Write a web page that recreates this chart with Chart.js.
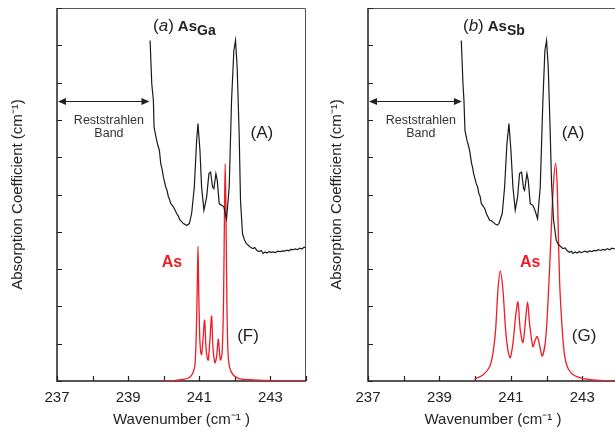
<!DOCTYPE html>
<html>
<head>
<meta charset="utf-8">
<script src="https://cdn.jsdelivr.net/npm/chart.js@4.4.0/dist/chart.umd.min.js"></script>
<style>
	html, body { margin: 0; padding: 0; background: #fff; overflow: hidden; width: 615px; height: 432px; }
	#graphA { position: absolute; left: 0; top: 0; }
	#graphB { position: absolute; left: 310px; top: 0; }
</style>
</head>
<body>
<canvas id="graphA" width="310" height="432"></canvas>
<canvas id="graphB" width="310" height="432"></canvas>
<script>
'use strict';

// axes
var xTicks = [237, 238, 239, 240, 241, 242, 243, 244];
var xTickLabels = ['237', '', '239', '', '241', '', '243', ''];
var yTicks = [0, 1, 2, 3, 4, 5, 6, 7, 8, 9, 10];

// (a) As_Ga : measured spectrum (A)
var gaMesX = [239.617, 239.664, 239.710, 239.729, 239.770, 239.804, 239.840, 239.879, 239.916, 239.950, 239.991, 240.056, 240.090, 240.131, 240.160, 240.196, 240.230, 240.271, 240.320, 240.364, 240.410, 240.458, 240.500, 240.551, 240.600, 240.645, 240.720, 240.785, 240.860, 240.925, 240.963, 241.019, 241.065, 241.131, 241.206, 241.271, 241.318, 241.374, 241.411, 241.467, 241.505, 241.561, 241.626, 241.692, 241.766, 241.841, 241.907, 241.972, 242.019, 242.065, 242.121, 242.159, 242.215, 242.270, 242.327, 242.400, 242.460, 242.514, 242.560, 242.620, 242.680, 242.740, 242.794, 242.850, 242.900, 242.960, 243.020, 243.075, 243.140, 243.200, 243.270, 243.355, 243.400, 243.460, 243.520, 243.580, 243.636, 243.700, 243.760, 243.820, 243.880, 243.940, 243.991];
var gaMesY = [9.13, 7.97, 7.52, 6.81, 6.60, 6.45, 6.30, 6.18, 5.83, 5.70, 5.47, 5.20, 5.12, 4.94, 4.88, 4.76, 4.72, 4.67, 4.58, 4.49, 4.42, 4.31, 4.28, 4.22, 4.20, 4.17, 4.22, 4.49, 5.20, 6.45, 6.90, 6.18, 5.20, 4.58, 4.93, 5.56, 5.60, 5.20, 5.16, 5.56, 5.38, 4.75, 4.71, 4.67, 4.35, 5.20, 7.52, 8.86, 9.13, 8.41, 6.63, 4.84, 3.95, 3.78, 3.68, 3.62, 3.57, 3.55, 3.58, 3.50, 3.47, 3.50, 3.42, 3.46, 3.43, 3.47, 3.45, 3.46, 3.44, 3.48, 3.47, 3.49, 3.48, 3.51, 3.49, 3.53, 3.52, 3.54, 3.52, 3.56, 3.54, 3.58, 3.58];

// (a) As_Ga : calculated spectrum (F)
var gaCalcX = [240.000, 240.271, 240.551, 240.692, 240.785, 240.832, 240.879, 240.916, 240.944, 240.963, 240.981, 241.009, 241.037, 241.065, 241.103, 241.150, 241.187, 241.224, 241.252, 241.299, 241.346, 241.383, 241.439, 241.486, 241.533, 241.570, 241.598, 241.645, 241.682, 241.710, 241.729, 241.748, 241.776, 241.804, 241.850, 241.953, 242.140, 242.514, 243.168, 243.991];
var gaCalcY = [0, 0.01, 0.04, 0.08, 0.16, 0.25, 0.43, 1.28, 2.61, 3.61, 2.61, 1.28, 0.79, 0.71, 1.10, 1.63, 0.92, 0.61, 0.56, 1.10, 1.74, 0.92, 0.49, 0.65, 1.12, 0.74, 0.56, 0.83, 2.17, 4.67, 5.83, 4.67, 2.17, 0.83, 0.38, 0.16, 0.06, 0.03, 0.01, 0];

// (b) As_Sb : measured spectrum (A)
var sbMesX = [239.612, 239.659, 239.687, 239.715, 239.771, 239.810, 239.845, 239.901, 239.930, 239.957, 240.032, 240.070, 240.106, 240.140, 240.172, 240.237, 240.280, 240.312, 240.360, 240.405, 240.450, 240.498, 240.573, 240.620, 240.666, 240.759, 240.825, 240.890, 240.946, 241.002, 241.058, 241.123, 241.188, 241.244, 241.300, 241.356, 241.384, 241.450, 241.487, 241.543, 241.618, 241.674, 241.748, 241.823, 241.897, 241.953, 242.000, 242.047, 242.103, 242.140, 242.196, 242.271, 242.330, 242.400, 242.457, 242.520, 242.580, 242.640, 242.700, 242.737, 242.800, 242.860, 242.920, 242.970, 243.017, 243.080, 243.140, 243.200, 243.270, 243.330, 243.390, 243.450, 243.520, 243.580, 243.640, 243.700, 243.763, 243.830, 243.900, 243.960, 243.996];
var sbMesY = [9.13, 7.97, 7.52, 6.72, 6.45, 6.32, 6.18, 5.83, 5.72, 5.56, 5.29, 5.20, 5.02, 4.95, 4.76, 4.67, 4.60, 4.49, 4.40, 4.31, 4.30, 4.26, 4.20, 4.18, 4.22, 4.49, 5.20, 6.36, 6.90, 6.18, 5.20, 4.58, 4.93, 5.56, 5.60, 5.16, 5.11, 5.56, 5.38, 4.75, 4.71, 4.58, 4.35, 5.20, 7.52, 8.86, 9.13, 8.41, 6.63, 5.29, 4.31, 3.77, 3.66, 3.60, 3.55, 3.57, 3.49, 3.45, 3.48, 3.42, 3.46, 3.43, 3.47, 3.44, 3.46, 3.48, 3.45, 3.49, 3.47, 3.50, 3.49, 3.52, 3.50, 3.53, 3.51, 3.55, 3.52, 3.56, 3.54, 3.57, 3.55];

// (b) As_Sb : calculated spectrum (G)
var sbCalcX = [239.985, 240.218, 240.405, 240.498, 240.573, 240.638, 240.703, 240.778, 240.853, 240.918, 240.983, 241.058, 241.132, 241.198, 241.263, 241.338, 241.403, 241.468, 241.524, 241.618, 241.683, 241.739, 241.804, 241.879, 241.972, 242.047, 242.131, 242.187, 242.252, 242.299, 242.327, 242.364, 242.410, 242.476, 242.550, 242.690, 242.924, 243.297, 244.000];
var sbCalcY = [0.05, 0.16, 0.38, 0.74, 1.37, 2.44, 2.95, 2.44, 1.37, 0.83, 0.62, 1.01, 1.72, 2.12, 1.37, 1.03, 1.54, 2.12, 1.54, 0.92, 1.10, 1.19, 0.96, 0.67, 1.10, 2.26, 4.04, 5.20, 5.84, 5.20, 4.04, 2.70, 1.81, 0.92, 0.47, 0.21, 0.09, 0.03, 0];

var FONT = "'Liberation Sans', Arial, Helvetica, sans-serif";
var INK = '#222';
var RED = '#ee1c25';

Chart.defaults.font.family = FONT;
Chart.defaults.color = INK;

function pairs(xs, ys) {
	var out = [];
	for (var i = 0; i < xs.length; i++) {
		out.push({ x: xs[i], y: ys[i] });
	}
	return out;
}

function decor(cfg) {
	return {
		id: 'decor',
		beforeDatasetsDraw: function (chart) {
			var ctx = chart.ctx, a = chart.chartArea;
			var sx = chart.scales.x, sy = chart.scales.y;
			ctx.save();
			// box
			ctx.strokeStyle = '#555';
			ctx.lineWidth = 1;
			ctx.beginPath();
			ctx.moveTo(a.left, a.top + 0.5);
			ctx.lineTo(a.right - 0.5, a.top + 0.5);
			ctx.lineTo(a.right - 0.5, a.bottom);
			ctx.stroke();
			ctx.strokeStyle = INK;
			ctx.lineWidth = 1.5;
			ctx.beginPath();
			ctx.moveTo(a.left, a.top);
			ctx.lineTo(a.left, a.bottom);
			ctx.lineTo(a.right, a.bottom);
			ctx.stroke();
			// inner ticks
			ctx.lineWidth = 1.2;
			ctx.beginPath();
			xTicks.forEach(function (v) {
				var p = Math.round(sx.getPixelForValue(v)) + 0.5;
				ctx.moveTo(p, a.bottom);
				ctx.lineTo(p, a.bottom - 5);
			});
			yTicks.forEach(function (v) {
				var p = Math.round(sy.getPixelForValue(v)) + 0.5;
				ctx.moveTo(a.left, p);
				ctx.lineTo(a.left + 5, p);
			});
			ctx.stroke();
			ctx.restore();
		},
		afterDatasetsDraw: function (chart) {
			var ctx = chart.ctx;
			var sx = chart.scales.x, sy = chart.scales.y;
			ctx.save();
			ctx.textBaseline = 'alphabetic';

			// reststrahlen arrow
			var x0 = sx.getPixelForValue(237) + 1, x1 = sx.getPixelForValue(cfg.bandEnd);
			var ay = Math.round(sy.getPixelForValue(7.5)) + 0.5;
			ctx.strokeStyle = INK;
			ctx.fillStyle = INK;
			ctx.lineWidth = 1.2;
			ctx.beginPath();
			ctx.moveTo(x0 + 4, ay);
			ctx.lineTo(x1 - 4, ay);
			ctx.stroke();
			ctx.beginPath();
			ctx.moveTo(x0, ay); ctx.lineTo(x0 + 8, ay - 3.5); ctx.lineTo(x0 + 8, ay + 3.5); ctx.closePath();
			ctx.moveTo(x1, ay); ctx.lineTo(x1 - 8, ay - 3.5); ctx.lineTo(x1 - 8, ay + 3.5); ctx.closePath();
			ctx.fill();

			ctx.fillStyle = '#333';
			ctx.textAlign = 'center';
			ctx.font = '12.5px ' + FONT;
			ctx.fillText('Reststrahlen', sx.getPixelForValue(cfg.bandText), sy.getPixelForValue(6.89));
			ctx.fillText('Band', sx.getPixelForValue(cfg.bandText), sy.getPixelForValue(6.54));

			// curve labels
			ctx.fillStyle = INK;
			ctx.font = '17px ' + FONT;
			ctx.fillText('(A)', sx.getPixelForValue(cfg.aX), sy.getPixelForValue(6.52));
			ctx.fillText(cfg.calcName, sx.getPixelForValue(cfg.calcX), sy.getPixelForValue(1.06));
			ctx.fillStyle = RED;
			ctx.font = 'bold 16px ' + FONT;
			ctx.fillText('As', sx.getPixelForValue(cfg.asX), sy.getPixelForValue(3.05));

			// panel title
			ctx.fillStyle = INK;
			ctx.textAlign = 'left';
			var tx = sx.getPixelForValue(cfg.titleX), ty = sy.getPixelForValue(9.38);
			var parts = [
				['(', '17px ', 0, 0],
				[cfg.letter, 'italic 17px ', 0, 0],
				[')', '17px ', 0, 4],
				['As', 'bold 15px ', 0, 0],
				[cfg.site, 'bold 14px ', 4, 0]
			];
			parts.forEach(function (p) {
				ctx.font = p[1] + FONT;
				ctx.fillText(p[0], tx, ty + p[2]);
				tx += ctx.measureText(p[0]).width + p[3];
			});
			ctx.restore();
		}
	};
}

function makeChart(id, mes, calc, cfg) {
	return new Chart(document.getElementById(id), {
		type: 'line',
		data: {
			datasets: [
				{
					data: mes,
					borderColor: '#1a1a1a',
					borderWidth: 1.2,
					pointRadius: 0,
					tension: 0,
					fill: false
				},
				{
					data: calc,
					borderColor: RED,
					borderWidth: 1.3,
					pointRadius: 0,
					tension: 0.3,
					fill: false
				}
			]
		},
		options: {
			responsive: false,
			animation: false,
			events: [],
			layout: { padding: { top: 8, right: cfg.padRight, left: 0, bottom: 0 } },
			plugins: {
				legend: { display: false },
				tooltip: { enabled: false }
			},
			scales: {
				x: {
					type: 'linear',
					min: 237,
					max: 244,
					afterBuildTicks: function (scale) {
						scale.ticks = xTicks.map(function (v) { return { value: v }; });
					},
					afterFit: function (scale) { scale.height = 51; },
					// grid hidden; tickLength only pushes the labels down
					grid: { display: false, drawTicks: true, tickLength: 8 },
					border: { display: false },
					ticks: {
						autoSkip: false,
						maxRotation: 0,
						padding: 0,
						color: INK,
						font: { size: 15 },
						callback: function (v) {
							var i = xTicks.indexOf(v);
							return i < 0 ? '' : xTickLabels[i];
						}
					},
					title: {
						display: true,
						text: 'Wavenumber (cm\u207B\u00B9 )',
						color: INK,
						font: { size: 15, lineHeight: 1.2 },
						padding: { top: 0, bottom: 3 }
					}
				},
				y: {
					type: 'linear',
					min: 0,
					max: 10,
					afterFit: function (scale) { scale.width = cfg.axisWidth; },
					grid: { display: false, drawTicks: false },
					border: { display: false },
					ticks: { display: false },
					title: {
						display: true,
						text: 'Absorption Coefficient (cm\u207B\u00B9)',
						color: INK,
						font: { size: 15, lineHeight: 1.2 },
						padding: { top: cfg.titlePad, bottom: 0 }
					}
				}
			}
		},
		plugins: [decor(cfg)]
	});
}

makeChart('graphA', pairs(gaMesX, gaMesY), pairs(gaCalcX, gaCalcY), {
	padRight: 4, axisWidth: 57, titlePad: 9,
	letter: 'a', site: 'Ga', titleX: 239.70,
	bandEnd: 239.60, bandText: 238.46,
	aX: 242.76, asX: 240.23, calcX: 242.37, calcName: '(F)'
});

makeChart('graphB', pairs(sbMesX, sbMesY), pairs(sbCalcX, sbCalcY), {
	padRight: 2, axisWidth: 58, titlePad: 18,
	letter: 'b', site: 'Sb', titleX: 239.66,
	bandEnd: 239.63, bandText: 238.48,
	aX: 242.74, asX: 241.54, calcX: 243.05, calcName: '(G)'
});
</script>
</body>
</html>
